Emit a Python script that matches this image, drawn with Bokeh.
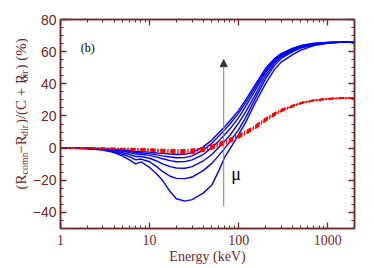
import math
from bokeh.plotting import figure
from bokeh.layouts import row
from bokeh.models import (Label, Arrow, NormalHead, FixedTicker, LinearAxis, LogAxis,
                          CustomJSTickFormatter, Range1d)
from bokeh.embed import file_html
from bokeh.resources import INLINE

# ---------------- data ----------------
energy = [1, 2, 3, 4, 5, 6, 7, 8, 10, 12, 14, 17, 20, 25, 30, 40, 50, 60, 70, 80,
          100, 120, 150, 200, 250, 300, 400, 500, 700, 1000, 1500, 2000]

blue_1 = [0, -0.1, -0.4, -0.8, -1.2, -1.6, -2.0, -2.1, -2.5, -3.0, -3.3, -3.7, -4.0, -3.9, -2.8, 0.8,
          5.0, 9.5, 13.5, 17.0, 23.5, 30.0, 38.5, 49.5, 55.5, 58.8, 62.0, 63.8, 65.2, 65.8, 66.0, 66.0]
blue_2 = [0, -0.1, -0.5, -1.0, -1.6, -2.2, -2.8, -2.9, -3.4, -4.2, -4.8, -5.5, -6.0, -5.9, -4.8, -1.2,
          3.0, 7.5, 11.5, 15.0, 21.8, 28.3, 36.8, 48.3, 54.6, 58.2, 61.6, 63.5, 65.0, 65.7, 66.0, 66.0]
blue_3 = [0, -0.2, -0.6, -1.3, -2.0, -2.8, -3.7, -3.8, -4.5, -5.6, -6.6, -7.8, -8.5, -8.4, -7.3, -4.0,
          0.3, 4.5, 8.5, 12.0, 19.0, 26.0, 35.0, 47.0, 53.8, 57.6, 61.2, 63.2, 64.8, 65.6, 66.0, 66.0]
blue_4 = [0, -0.2, -0.8, -1.8, -2.8, -4.0, -5.2, -5.2, -6.3, -8.0, -9.8, -11.5, -12.4, -12.5, -11.5, -8.0,
          -4.0, 0.5, 4.5, 8.0, 15.5, 22.5, 32.0, 45.0, 52.5, 56.8, 60.6, 62.8, 64.6, 65.5, 66.0, 66.0]
blue_5 = [0, -0.3, -1.0, -2.3, -3.8, -5.5, -7.3, -6.8, -8.5, -11.5, -14.5, -17.5, -18.8, -19.0, -18.0, -14.0,
          -9.5, -4.5, 0.0, 4.0, 11.5, 19.0, 29.5, 43.0, 51.0, 55.8, 59.8, 62.3, 64.3, 65.4, 66.0, 66.0]
blue_6 = [0, -0.3, -1.2, -2.8, -5.0, -7.5, -9.8, -8.5, -12.0, -16.0, -20.0, -27.0, -31.5, -33.0, -32.0, -28.0,
          -23.0, -14.0, -5.5, -0.5, 8.5, 16.0, 27.0, 40.0, 48.5, 53.5, 58.0, 61.0, 63.8, 65.2, 66.0, 66.0]

red_1 = [0, 0, -0.1, -0.15, -0.2, -0.3, -0.4, -0.45, -0.6, -0.7, -0.8, -0.9, -1.0, -1.0, -0.7, 0.4,
         1.8, 3.3, 4.7, 6.0, 8.5, 10.6, 13.6, 18.5, 21.8, 24.0, 26.5, 28.3, 29.9, 30.8, 31.2, 31.3]
red_2 = [0, 0, -0.15, -0.25, -0.35, -0.45, -0.55, -0.6, -0.8, -1.0, -1.2, -1.4, -1.5, -1.6, -1.3, -0.1,
         1.3, 2.8, 4.2, 5.5, 8.0, 10.2, 13.2, 18.0, 21.4, 23.7, 26.3, 28.2, 29.8, 30.7, 31.1, 31.3]
red_3 = [0, -0.05, -0.2, -0.35, -0.5, -0.6, -0.75, -0.8, -1.1, -1.4, -1.6, -1.9, -2.1, -2.2, -1.9, -0.7,
         0.7, 2.2, 3.6, 5.0, 7.5, 9.8, 12.8, 17.6, 21.0, 23.4, 26.1, 28.0, 29.7, 30.6, 31.1, 31.3]
red_4 = [0, -0.05, -0.25, -0.45, -0.6, -0.8, -0.95, -1.0, -1.4, -1.7, -2.0, -2.4, -2.7, -2.8, -2.5, -1.3,
         0.1, 1.6, 3.0, 4.4, 7.0, 9.3, 12.3, 17.2, 20.6, 23.1, 25.9, 27.9, 29.6, 30.6, 31.1, 31.3]
red_5 = [0, -0.1, -0.3, -0.55, -0.75, -1.0, -1.2, -1.25, -1.7, -2.1, -2.5, -3.0, -3.3, -3.5, -3.2, -2.0,
         -0.5, 1.0, 2.4, 3.8, 6.4, 8.8, 11.8, 16.8, 20.2, 22.8, 25.7, 27.7, 29.5, 30.5, 31.0, 31.3]

blue_series = [blue_1, blue_2, blue_3, blue_4, blue_5, blue_6]
red_series = [red_1, red_2, red_3, red_4, red_5]

x_tick_vals = [1, 10, 100, 1000]
x_tick_labels = ["1", "10", "100", "1000"]
x_minor_vals = [2, 3, 4, 5, 6, 7, 8, 9, 20, 30, 40, 50, 60, 70, 80, 90,
                200, 300, 400, 500, 600, 700, 800, 900, 2000]
y_tick_vals = [-40, -20, 0, 20, 40, 60, 80]
y_tick_labels = ["\u221240", "\u221220", "0", "20", "40", "60", "80"]
y_minor_vals = list(range(-50, 81, 5))

arrow_energy = 68
arrow_start = -36.3
arrow_end = 55.0

x_title = "Energy (keV)"
y_title_parts = [("(R", False), ("comp", True), ("\u2212R", False), ("dir", True),
                 (")/(C + R", False), ("dir", True), (") (%)", False)]
panel_tag = "(b)"
mu_tag = "\u03bc"

# ---------------- styling ----------------
MAROON = "#6e2828"
SERIF = "Liberation Serif"
SANS = "Liberation Sans"

PAGE_W, PAGE_H = 374, 268
TW = 28                      # width of the strip holding the vertical title
W, H = PAGE_W - TW, PAGE_H
FRAME_L, FRAME_R, FRAME_T, FRAME_B = 60, 354, 19, 228
BL, BR, BT, BB = FRAME_L - TW, PAGE_W - FRAME_R, FRAME_T, PAGE_H - FRAME_B
XMIN, XMAX, YMIN, YMAX = 1, 2000, -50, 80
LOG_SPAN = math.log10(XMAX / XMIN)


def ex(px):   # page x -> energy
    return XMIN * 10 ** ((px - FRAME_L) / (FRAME_R - FRAME_L) * LOG_SPAN)


def vy(py):   # page y -> value
    return YMAX - (py - FRAME_T) / (FRAME_B - FRAME_T) * (YMAX - YMIN)


p = figure(width=W, height=H, x_axis_type="log",
           x_range=Range1d(XMIN, XMAX), y_range=Range1d(YMIN, YMAX),
           output_backend="svg", toolbar_location=None,
           min_border_left=BL, min_border_right=BR, min_border_top=BT, min_border_bottom=BB)
p.xgrid.visible = False
p.ygrid.visible = False
p.outline_line_color = MAROON
p.outline_line_width = 1.5
p.background_fill_color = "white"
p.border_fill_color = "white"

bottom_axis = p.below[0]
left_axis = p.left[0]

xt = FixedTicker(ticks=x_tick_vals, minor_ticks=x_minor_vals)
yt = FixedTicker(ticks=y_tick_vals, minor_ticks=y_minor_vals)

blank = CustomJSTickFormatter(code="return ''")
top_axis = LogAxis(ticker=xt, formatter=blank, major_label_standoff=0)
right_axis = LinearAxis(ticker=yt, formatter=blank, major_label_standoff=0)
p.add_layout(top_axis, "above")
p.add_layout(right_axis, "right")

for ax in [bottom_axis, left_axis, top_axis, right_axis]:
    ax.axis_line_color = MAROON
    ax.axis_line_width = 1.5
    ax.major_tick_line_color = MAROON
    ax.minor_tick_line_color = MAROON
    ax.major_tick_line_width = 1.3
    ax.minor_tick_line_width = 1.0
    ax.major_tick_in = 6
    ax.major_tick_out = 0
    ax.minor_tick_in = 3
    ax.minor_tick_out = 0
    ax.major_label_text_color = MAROON

fmt_code = "const i = vals.indexOf(tick); return i >= 0 ? labs[i] : '';"

bottom_axis.ticker = xt
bottom_axis.formatter = CustomJSTickFormatter(args=dict(vals=x_tick_vals, labs=x_tick_labels), code=fmt_code)
bottom_axis.major_label_text_font = SERIF
bottom_axis.major_label_text_font_size = "14px"
bottom_axis.major_label_standoff = 6
bottom_axis.axis_label = x_title
bottom_axis.axis_label_text_font = SERIF
bottom_axis.axis_label_text_font_size = "14px"
bottom_axis.axis_label_text_font_style = "normal"
bottom_axis.axis_label_text_color = MAROON
bottom_axis.axis_label_standoff = 1

left_axis.ticker = yt
left_axis.formatter = CustomJSTickFormatter(args=dict(vals=y_tick_vals, labs=y_tick_labels), code=fmt_code)
left_axis.major_label_text_font = SANS
left_axis.major_label_text_font_size = "14px"
left_axis.major_label_standoff = 4

# ---------------- curves ----------------
for s in blue_series:
    p.line(energy, s, line_color="#0000ff", line_width=1.4)
for s in red_series:
    p.line(energy, s, line_color="#ff0000", line_width=1.5, line_dash="5 2 1 2")

# ---------------- annotations ----------------
p.add_layout(Arrow(x_start=arrow_energy, y_start=arrow_start, x_end=arrow_energy, y_end=arrow_end,
                   line_color="#808080", line_width=1,
                   end=NormalHead(size=7, fill_color="#333333", line_color="#333333", line_width=1)))

p.add_layout(Label(x=ex(87.3), y=vy(47), text=panel_tag, text_font=SERIF, text_font_size="12px",
                   text_color="black", text_align="center", text_baseline="middle"))
p.add_layout(Label(x=ex(235.5), y=vy(173.5), text=mu_tag, text_font=SERIF, text_font_size="18px",
                   text_color="black", text_align="center", text_baseline="alphabetic"))

# ---------------- vertical y-axis title (with subscripts) in its own strip ----------------
t = figure(width=TW, height=H, x_range=Range1d(0, TW), y_range=Range1d(0, H),
           output_backend="svg", toolbar_location=None,
           x_axis_location=None, y_axis_location=None,
           min_border=0, min_border_left=0, min_border_right=0, min_border_top=0, min_border_bottom=0)
t.xgrid.visible = False
t.ygrid.visible = False
t.outline_line_color = None
t.background_fill_color = "white"
t.border_fill_color = "white"

CW = {'(': .333, ')': .333, 'R': .667, 'c': .444, 'o': .5, 'm': .778, 'p': .5, '\u2212': .564,
      'd': .5, 'i': .278, 'r': .333, '/': .278, 'C': .667, ' ': .25, '+': .564, '%': .833}
MAIN_FS, SUB_FS = 15, 10
widths = [sum(CW.get(c, .5) for c in s) * (SUB_FS if sub else MAIN_FS) for s, sub in y_title_parts]
span_bottom, span_top = 218, 33
gap = ((span_bottom - span_top) - sum(widths)) / (len(widths) - 1)
pos = span_bottom
for (s, sub), w in zip(y_title_parts, widths):
    t.add_layout(Label(x=23.5 if sub else 20.5, y=H - pos, text=s, angle=math.pi / 2,
                       text_font=SERIF, text_font_size=f"{SUB_FS if sub else MAIN_FS}px",
                       text_color=MAROON, text_align="left", text_baseline="alphabetic"))
    pos -= w + gap

layout = row(t, p, spacing=0)
open("out.html", "w").write(file_html(layout, INLINE))
